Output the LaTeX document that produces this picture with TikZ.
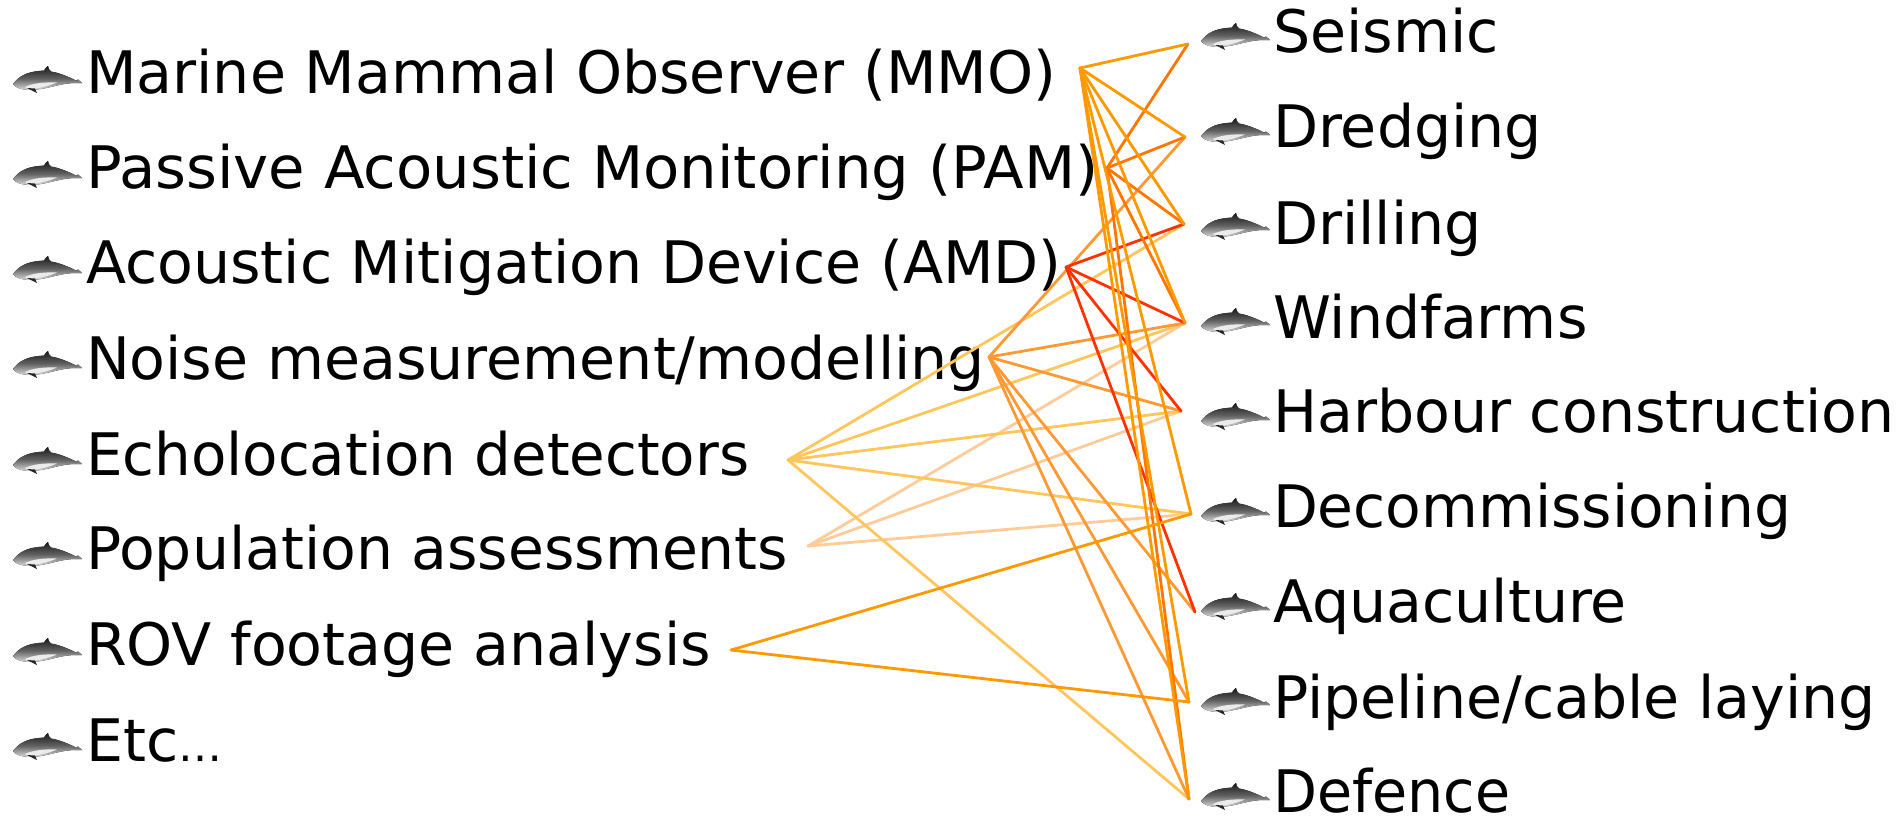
\documentclass[tikz,border=0pt]{standalone}
\usepackage{fontspec}
\setmainfont{DejaVu Sans}
\definecolor{cMMO}{HTML}{FF9900}
\definecolor{cPAM}{HTML}{FF7700}
\definecolor{cAMD}{HTML}{FF3300}
\definecolor{cNOI}{HTML}{FF9933}
\definecolor{cECH}{HTML}{FFC65C}
\definecolor{cPOP}{HTML}{FFCC99}
\tikzset{
  lbl/.style={anchor=base west,inner sep=0pt,outer sep=0pt,font=\fontsize{58.6}{58.6}\selectfont,text=black,transform shape},
  link/.style={line width=2.8pt,line cap=round,line join=round},
  porpoise/.pic={
    \fill[top color=black!90,bottom color=black!10,middle color=black!62,shading angle=0]
      (0,2) .. controls (6,-6) and (14,-10) .. (26,-11)
      -- (31,-11.5) .. controls (33,-14) and (33,-15) .. (35,-16)
      .. controls (35,-14) and (36,-12) .. (38,-10.5)
      .. controls (47,-9) and (56,-5) .. (63,-1.5) -- (65,-2.5) -- (69,1) -- (63,1)
      .. controls (50,1) and (40,5) .. (28,7)
      .. controls (16,9) and (4,8) .. (0,2) -- cycle;
    \fill[black!8] (12,5) .. controls (20,1) and (32,0) .. (44,0.5)
      .. controls (36,4) and (26,6.5) .. (18,7) .. controls (15,7) and (13,6) .. (12,5) -- cycle;
    \fill[black!85] (14,6) -- (20,9) -- (24,11) -- (22,6.5) -- cycle;
  }
}
\begin{document}
\begin{tikzpicture}[x=1pt,y=-1pt]
\useasboundingbox (0,0) rectangle (1897,815);
% left labels
\node[lbl] (tMMO) at (86,93.5) {Marine Mammal Observer (MMO)};
\node[lbl,xscale=1.012] (tPAM) at (86,188.5) {Passive Acoustic Monitoring (PAM)};
\node[lbl] (tAMD) at (86,283) {Acoustic Mitigation Device (AMD)};
\node[lbl] (tNOI) at (86,379) {Noise measurement/modelling};
\node[lbl,xscale=.988] (tECH) at (86,475.5) {Echolocation detectors};
\node[lbl,xscale=.997] (tPOP) at (86,569.5) {Population assessments};
\node[lbl] (tROV) at (86,665.5) {ROV footage analysis};
\node[lbl] (tETC) at (86,761.5) {Etc{\fontsize{44}{44}\selectfont …}};
% right labels
\node[lbl] (tSEI) at (1273,52) {Seismic};
\node[lbl] (tDRE) at (1273,147.5) {Dredging};
\node[lbl] (tDRI) at (1273,244) {Drilling};
\node[lbl] (tWIN) at (1273,338.5) {Windfarms};
\node[lbl] (tHAR) at (1273,432.5) {Harbour construction};
\node[lbl,xscale=.995] (tDEC) at (1273,527.5) {Decommissioning};
\node[lbl] (tAQU) at (1273,622.5) {Aquaculture};
\node[lbl] (tPIP) at (1273,718) {Pipeline/cable laying};
\node[lbl,xscale=.975] (tDEF) at (1273,812) {Defence};
% porpoises
\foreach \yy in {82,177,272,367,463,558,654,749}
  \pic at (13,\yy) {porpoise};
\foreach \yy in {39,134,229,324,419,514,609,704,799}
  \pic at (1201,\yy) {porpoise};
% connector ends
\coordinate (MMO) at (1080,68);
\coordinate (PAM) at (1107,168);
\coordinate (AMD) at (1066,267);
\coordinate (NOI) at (989,357);
\coordinate (ECH) at (788,460);
\coordinate (POP) at (808,546);
\coordinate (ROV) at (731,650);
\coordinate (SEI) at (1188,44);
\coordinate (DRE) at (1185,137);
\coordinate (DRI) at (1184,224);
\coordinate (WIN) at (1185,323);
\coordinate (HAR) at (1181,411);
\coordinate (DEC) at (1191,514);
\coordinate (AQU) at (1195,612);
\coordinate (PIP) at (1189,702);
\coordinate (DEF) at (1189,799);
% connectors
\foreach \t in {WIN,HAR,DEC}
  \draw[link,cPOP] (POP) -- (\t);
\foreach \t in {DRI,WIN,HAR,DEC,DEF}
  \draw[link,cECH] (ECH) -- (\t);
\foreach \t in {DRE,WIN,HAR,AQU,PIP,DEF}
  \draw[link,cNOI] (NOI) -- (\t);
\foreach \t in {DRI,WIN,HAR,AQU}
  \draw[link,cAMD] (AMD) -- (\t);
\foreach \t in {SEI,DRE,DRI,WIN,DEF}
  \draw[link,cPAM] (PAM) -- (\t);
\foreach \t in {SEI,DRE,DRI,WIN,DEC,PIP,DEF}
  \draw[link,cMMO] (MMO) -- (\t);
\foreach \t in {DEC,PIP}
  \draw[link,cMMO] (ROV) -- (\t);
\end{tikzpicture}
\end{document}
